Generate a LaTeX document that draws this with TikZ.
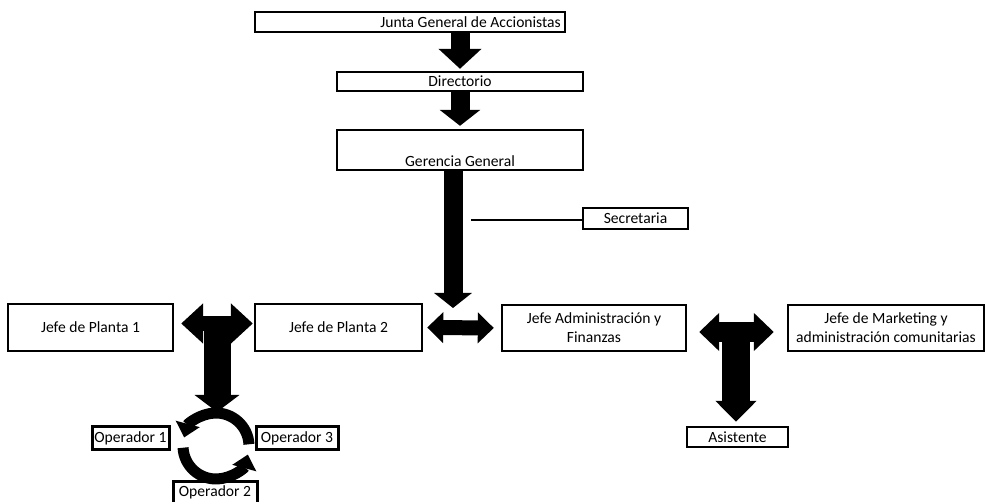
\documentclass[tikz,border=0pt]{standalone}
\usepackage{fontspec}
\setmainfont{Carlito}
\usetikzlibrary{arrows.meta}

\begin{document}
\begin{tikzpicture}[x=0.5pt,y=-0.5pt,
  letra/.style={font=\fontsize{7.8}{9.4}\selectfont},
  caja/.style={draw, line width=1.2pt, inner sep=1pt, align=center, letra},
  opcaja/.style={caja, line width=1.5pt, minimum height=11pt},
  bloque/.style={line width=#1},
  giro/.style={line width=5.5pt, -{Triangle[width=12pt,length=7pt]}}]

\useasboundingbox (0,0) rectangle (986,502);

% Top of the chart
\node[caja, minimum width=155pt, minimum height=10pt,
  label={[anchor=east, inner sep=2.5pt, letra]east:Junta General de Accionistas}]
  (junta) at (410,22) {};
\node[caja, minimum width=123pt, minimum height=9.5pt] (dir) at (460,81.5) {Directorio};
\node[caja, minimum width=123pt, minimum height=20pt,
  label={[anchor=south, inner sep=2pt, letra]south:Gerencia General}]
  (ger) at (460,150) {};
\node[caja, minimum width=52.5pt, minimum height=10.5pt] (sec) at (635.5,218.5) {Secretaria};

% Jefes
\node[caja, minimum width=82.5pt, minimum height=23.5pt] (p1) at (90.5,327.5) {Jefe de Planta 1};
\node[caja, minimum width=83.5pt, minimum height=23.5pt] (p2) at (338.5,327.5) {Jefe de Planta 2};
\node[caja, minimum width=92pt, minimum height=23pt] (adm) at (594,328) {Jefe Administración y\\Finanzas};
\node[caja, minimum width=98pt, minimum height=23pt] (mkt) at (886,328)
  {Jefe de Marketing y\\administración comunitarias};
\node[caja, minimum width=50.5pt, minimum height=10pt] (asis) at (737.5,437) {Asistente};

% Operadores
\node[opcaja, minimum width=38.5pt] (op1) at (130.5,438) {Operador 1};
\node[opcaja, minimum width=41pt] (op3) at (297,438) {Operador 3};
\node[opcaja, minimum width=42pt] (op2) at (215,492) {Operador 2};

% Free ends
\coordinate (cruce) at (453,308);
\coordinate (secx) at (471,220);
\coordinate (tizq) at (217,318);
\coordinate (cima) at (217,412);
\coordinate (tder) at (736,322);
\coordinate (ciclo) at (216,446);

% Block arrows down the middle
\draw[bloque=9.5pt, -{Triangle[width=21pt,length=10pt]}, shorten >=1pt]
  (dir.north |- junta.south) -- (dir.north);
\draw[bloque=9.5pt, -{Triangle[width=20pt,length=8pt]}, shorten >=1.5pt]
  (dir.south) -- (ger.north);
\draw[bloque=9.5pt, -{Triangle[width=18.5pt,length=7.5pt]}]
  (ger.south -| cruce) -- (cruce);
\draw[line width=1pt] (secx) -- (secx -| sec.west);

% Double arrows
\draw[bloque=7.5pt, {Triangle[width=15pt,length=8pt]}-{Triangle[width=15pt,length=8pt]},
  shorten <=2pt, shorten >=3.5pt] (p2.east) -- (adm.west);
\draw[bloque=7.5pt, {Triangle[width=19.5pt,length=11pt]}-{Triangle[width=19.5pt,length=11pt]},
  shorten <=3.5pt, shorten >=0.5pt] ([yshift=2pt]p1.east) -- ([yshift=2pt]p2.west);
\draw[bloque=13.5pt, -{Triangle[width=22pt,length=8.5pt]}] (tizq) -- (cima);
\draw[bloque=10pt, {Triangle[width=18.5pt,length=10pt]}-{Triangle[width=18.5pt,length=10pt]},
  shorten <=6pt, shorten >=6.5pt] ([yshift=-2pt]adm.east) -- ([yshift=-2pt]mkt.west);
\draw[bloque=14pt, -{Triangle[width=20pt,length=10.5pt]}, shorten >=2pt] (tder) -- (tder |- asis.north);

% Cycle of operators
\draw[giro] ([shift={(-3:33)}]ciclo) arc[start angle=-3, end angle=-165, radius=33];
\draw[giro] ([shift={(-183:33)}]ciclo) arc[start angle=-183, end angle=-345, radius=33];

\end{tikzpicture}
\end{document}
